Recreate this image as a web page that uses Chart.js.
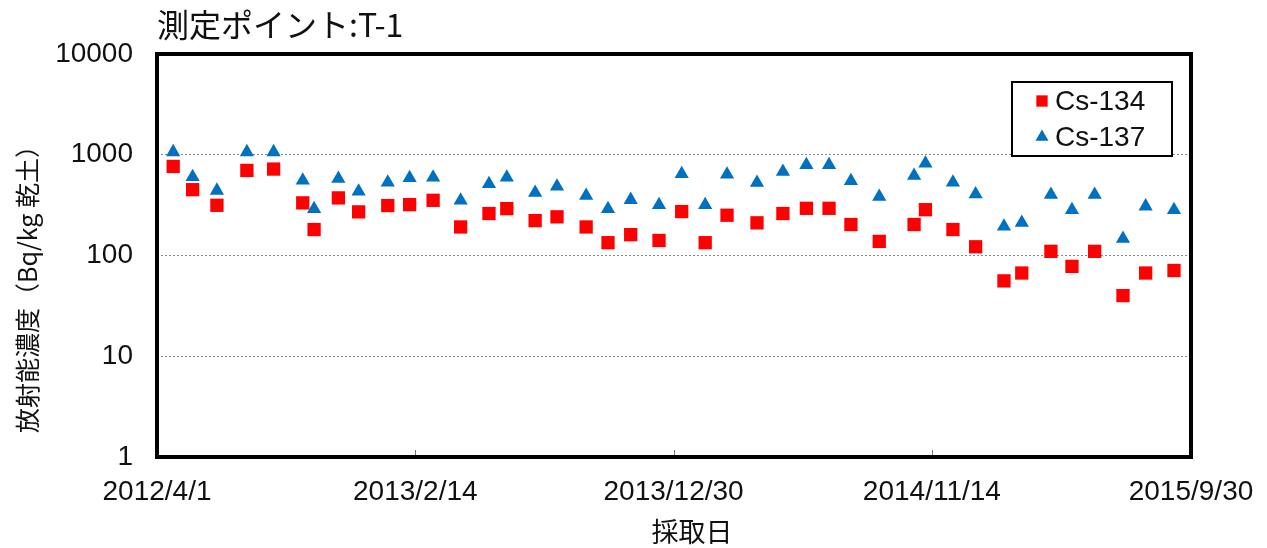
<!DOCTYPE html>
<html>
<head>
<meta charset="utf-8">
<script src="https://cdn.jsdelivr.net/npm/chart.js@4.4.1/dist/chart.umd.min.js"></script>
<style>
  body { margin: 0; background: #fff; }
  canvas { display: block; }
</style>
</head>
<body>
<canvas id="cs-chart" width="1267" height="548"></canvas>
<script>
const chartTitle = '測定ポイント:T-1';
const xAxisTitle = '採取日';
const yAxisTitle = '放射能濃度（Bq/kg 乾土）';
const startDate = '2012/4/1';

// days since 2012/4/1
const sampleDays = [20, 44, 74, 111, 144, 180, 194, 224, 249, 285, 312, 341, 375, 410,
    432, 467, 494, 530, 557, 585, 620, 648, 677, 704, 741, 773, 802, 830,
    857, 892, 935, 949, 983, 1011, 1046, 1068, 1104, 1130, 1158, 1193, 1221, 1256];
const cs134Values = [766, 450, 315, 699, 721, 333, 181, 373, 271, 313, 320, 353, 192, 261,
    292, 222, 242, 192, 134, 161, 141, 273, 134, 251, 211, 261, 294, 294,
    203, 138, 203, 285, 181, 122, 56, 67, 110, 78, 110, 40, 67, 71];
const cs137Values = [1064, 603, 441, 1064, 1064, 557, 290, 578, 433, 532, 588, 596, 352, 513,
    596, 421, 485, 392, 290, 357, 318, 644, 318, 638, 528, 679, 791, 791,
    549, 384, 620, 820, 532, 407, 194, 212, 402, 284, 402, 147, 308, 284];
const seriesLabels = ['Cs-134', 'Cs-137'];
const xTickLabels = ['2012/4/1', '2013/2/14', '2013/12/30', '2014/11/14', '2015/9/30'];
const yTickValues = [1, 10, 100, 1000, 10000];

const FONT = "'Liberation Sans', 'Noto Sans CJK JP', sans-serif";
const FONT_JP = "'Noto Sans CJK JP', sans-serif";

function dayOf(str) {
    const p = str.split('/').map(Number);
    const s = startDate.split('/').map(Number);
    return Math.round((Date.UTC(p[0], p[1] - 1, p[2]) - Date.UTC(s[0], s[1] - 1, s[2])) / 86400000);
}
const xTickDays = xTickLabels.map(dayOf);

const framePlugin = {
    id: 'frame',
    afterDatasetsDraw(chart) {
        const { ctx, chartArea: a } = chart;
        const xs = chart.scales.x;
        ctx.save();
        // small inward ticks on the date axis
        ctx.strokeStyle = '#777';
        ctx.lineWidth = 1;
        xTickDays.forEach(d => {
            const px = Math.round(xs.getPixelForValue(d)) + 0.5;
            ctx.beginPath();
            ctx.moveTo(px, a.bottom);
            ctx.lineTo(px, a.bottom - 7);
            ctx.stroke();
        });
        ctx.strokeStyle = '#000';
        ctx.lineWidth = 4;
        ctx.strokeRect(a.left, a.top, a.right - a.left, a.bottom - a.top);
        ctx.restore();
    },
    afterDraw(chart) {
        const { ctx, chartArea: a } = chart;
        ctx.save();
        ctx.fillStyle = '#111';
        ctx.textBaseline = 'middle';
        ctx.font = '32px ' + FONT_JP;
        ctx.textAlign = 'left';
        ctx.fillText(chartTitle, a.left, 25);

        ctx.font = '27px ' + FONT_JP;
        ctx.textAlign = 'center';
        ctx.fillText(xAxisTitle, 692, 532);

        ctx.translate(27, 283);
        ctx.rotate(-Math.PI / 2);
        ctx.font = '25px ' + FONT_JP;
        ctx.fillText(yAxisTitle, 0, 0);
        ctx.restore();

        // legend box inside the plot
        ctx.save();
        const bx = 1012, by = 82, bw = 160, bh = 74;
        ctx.fillStyle = '#fff';
        ctx.fillRect(bx, by, bw, bh);
        ctx.strokeStyle = '#000';
        ctx.lineWidth = 2;
        ctx.strokeRect(bx, by, bw, bh);
        ctx.font = '28px ' + FONT;
        ctx.textAlign = 'left';
        ctx.textBaseline = 'middle';
        chart.data.datasets.forEach((ds, i) => {
            const y = by + 19 + i * 36;
            ctx.fillStyle = ds.backgroundColor;
            Chart.helpers.drawPoint(ctx, {
                pointStyle: ds.pointStyle,
                radius: ds.pointStyle === 'rect' ? 8 : 7.5,
                rotation: 0,
                borderWidth: 0
            }, bx + 30, y);
            ctx.fillStyle = '#111';
            ctx.fillText(ds.label, bx + 43, y + 1);
        });
        ctx.restore();
    }
};

function initChart() {
    const ctx = document.getElementById('cs-chart').getContext('2d');
    new Chart(ctx, {
        type: 'scatter',
        data: {
            datasets: [{
                label: seriesLabels[0],
                data: sampleDays.map((d, i) => ({ x: d, y: cs134Values[i] })),
                pointStyle: 'rect',
                pointRadius: 9.4,
                pointBorderWidth: 0,
                backgroundColor: '#ff0000',
                borderColor: '#ff0000'
            }, {
                label: seriesLabels[1],
                data: sampleDays.map((d, i) => ({ x: d, y: cs137Values[i] })),
                pointStyle: 'triangle',
                pointRadius: 8.2,
                pointBorderWidth: 0,
                backgroundColor: '#0070c0',
                borderColor: '#0070c0'
            }]
        },
        options: {
            responsive: false,
            animation: false,
            devicePixelRatio: 1,
            layout: { padding: { left: 0, right: 76, top: 54, bottom: 0 } },
            plugins: {
                legend: { display: false },
                tooltip: { enabled: false }
            },
            scales: {
                x: {
                    type: 'linear',
                    min: xTickDays[0],
                    max: xTickDays[xTickDays.length - 1],
                    afterBuildTicks: s => { s.ticks = xTickDays.map(v => ({ value: v })); },
                    afterFit: s => {
                        s.height = 91;
                        s.paddingLeft = 0;
                        s.paddingRight = 0;
                    },
                    grid: { display: false, drawTicks: false },
                    border: { display: false },
                    ticks: {
                        autoSkip: false,
                        maxRotation: 0,
                        padding: 18,
                        color: '#111',
                        font: { family: FONT, size: 28 },
                        callback: (v, i) => xTickLabels[i]
                    }
                },
                y: {
                    type: 'logarithmic',
                    min: yTickValues[0],
                    max: yTickValues[yTickValues.length - 1],
                    afterBuildTicks: s => { s.ticks = yTickValues.map(v => ({ value: v })); },
                    afterFit: s => {
                        s.width = 157;
                        s.paddingTop = 0;
                        s.paddingBottom = 0;
                    },
                    grid: { color: '#8a8a8a', lineWidth: 1, drawTicks: false },
                    border: { display: false, dash: [2, 2] },
                    ticks: {
                        padding: 24,
                        color: '#111',
                        font: { family: FONT, size: 28 },
                        callback: v => String(v)
                    }
                }
            }
        },
        plugins: [framePlugin]
    });
}

document.addEventListener('DOMContentLoaded', () => {
    initChart();
});
</script>
</body>
</html>
